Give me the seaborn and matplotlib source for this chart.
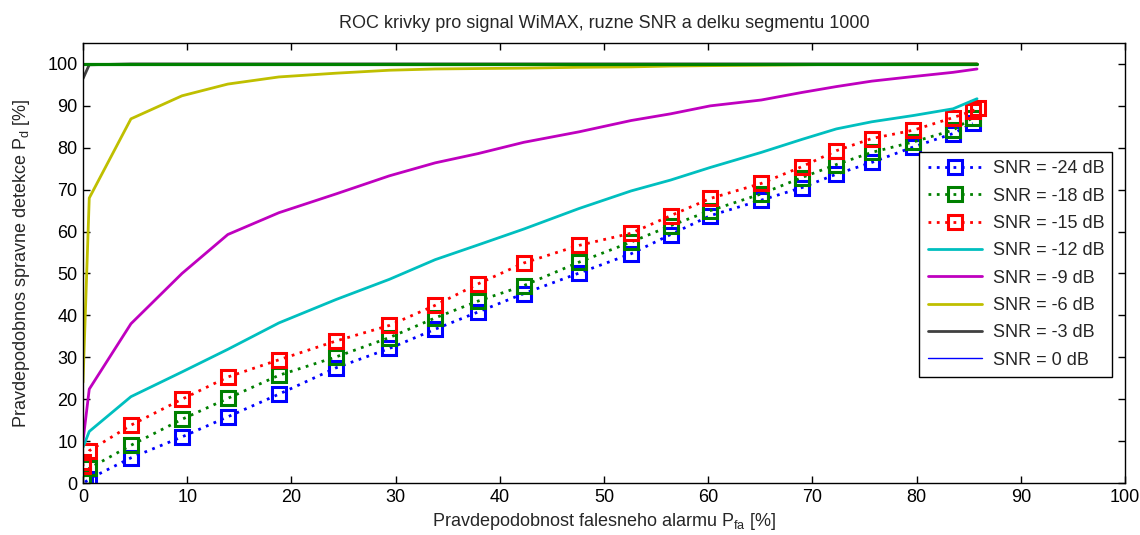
import numpy as np
import pandas as pd
import matplotlib
matplotlib.use("Agg")
import matplotlib.pyplot as plt
import seaborn as sns

sns.set_style("ticks")
plt.rcParams['font.family'] = ['Liberation Sans', 'DejaVu Sans']
plt.rcParams['mathtext.fontset'] = 'custom'
plt.rcParams['mathtext.rm'] = 'Liberation Sans'
plt.rcParams['mathtext.it'] = 'Liberation Sans'
plt.rcParams['mathtext.default'] = 'regular'

# ---- data (Pfa [%], Pd [%]) ----
x_m24 = [0.2, 0.6, 4.6, 9.5, 13.9, 18.8, 24.3, 29.4, 33.8, 37.9, 42.3, 47.6, 52.6, 56.4, 60.2, 65.1, 69.0, 72.3, 75.7, 79.7, 83.5, 85.4]
y_m24 = [0.2, 1.0, 6.0, 11.0, 15.8, 21.2, 27.5, 32.1, 36.7, 40.8, 45.2, 50.1, 54.7, 59.3, 63.8, 67.5, 70.5, 73.7, 76.5, 80.2, 83.4, 85.8]

x_m18 = [0.0, 0.6, 4.6, 9.5, 13.9, 18.8, 24.3, 29.4, 33.8, 37.9, 42.3, 47.6, 52.6, 56.4, 60.2, 65.1, 69.0, 72.3, 75.7, 79.7, 83.5, 85.4]
y_m18 = [1.5, 3.5, 9.0, 15.2, 20.2, 25.7, 30.1, 34.7, 39.4, 43.4, 47.1, 52.7, 57.5, 61.4, 65.0, 69.0, 72.9, 76.0, 78.9, 81.4, 84.2, 87.2]

x_m15 = [0.0, 0.0, 0.6, 4.6, 9.5, 13.9, 18.8, 24.3, 29.4, 33.8, 37.9, 42.3, 47.6, 52.6, 56.4, 60.2, 65.1, 69.0, 72.3, 75.7, 79.7, 83.5, 85.4, 85.9]
y_m15 = [4.0, 5.0, 7.7, 13.8, 20.0, 25.3, 29.4, 33.9, 37.6, 42.4, 47.5, 52.5, 56.7, 59.6, 63.8, 67.9, 71.5, 75.5, 79.3, 82.2, 84.2, 87.2, 88.8, 89.6]

x_line = [0.0, 0.6, 4.6, 9.5, 13.9, 18.8, 24.3, 29.4, 33.8, 37.9, 42.3, 47.6, 52.6, 56.4, 60.2, 65.1, 69.0, 72.3, 75.7, 79.7, 83.5, 85.8]
y_m12 = [8.5, 12.3, 20.6, 26.5, 31.9, 38.2, 43.8, 48.6, 53.3, 56.8, 60.6, 65.5, 69.7, 72.3, 75.3, 78.9, 82.0, 84.5, 86.2, 87.7, 89.3, 91.7]
y_m9 = [10.0, 22.4, 38.0, 50.0, 59.3, 64.5, 69.0, 73.3, 76.4, 78.6, 81.3, 83.8, 86.5, 88.1, 90.0, 91.4, 93.2, 94.6, 95.9, 97.0, 98.0, 98.8]
y_m6 = [24.0, 68.0, 86.9, 92.4, 95.2, 96.9, 97.8, 98.5, 98.8, 98.9, 99.0, 99.2, 99.3, 99.5, 99.6, 99.7, 99.8, 99.9, 99.9, 100.0, 100.0, 100.0]
y_m3 = [96.5, 99.8, 100.0, 100.0, 100.0, 100.0, 100.0, 100.0, 100.0, 100.0, 100.0, 100.0, 100.0, 100.0, 100.0, 100.0, 100.0, 100.0, 100.0, 100.0, 100.0, 100.0]
y_0 = [100.0] * 22
y_p3 = [100.0] * 22

labels = ['SNR = -24 dB', 'SNR = -18 dB', 'SNR = -15 dB', 'SNR = -12 dB',
          'SNR = -9 dB', 'SNR = -6 dB', 'SNR = -3 dB', 'SNR = 0 dB']

fig = plt.figure(figsize=(11.4, 5.35), dpi=100)
ax = fig.add_axes([83/1140, 1-483/535, (1125-83)/1140, (483-43)/535])

dot = (0, (1, 2))
mk = dict(marker='s', markersize=9.5, markerfacecolor='none', markeredgewidth=2.2)

def draw(x, y, label, color, lw, ls, marker=False):
    df = pd.DataFrame({'Pfa': x, 'Pd': y})
    kw = dict(mk, markeredgecolor=color) if marker else {}
    sns.lineplot(data=df, x='Pfa', y='Pd', ax=ax, sort=False, estimator=None,
                 color=color, linewidth=lw, linestyle=ls, label=label, **kw)

draw(x_m24, y_m24, labels[0], '#0000ff', 2.0, dot, True)
draw(x_m18, y_m18, labels[1], '#008000', 2.0, dot, True)
draw(x_m15, y_m15, labels[2], '#ff0000', 2.0, dot, True)
draw(x_line, y_m12, labels[3], '#00bfbf', 2.0, '-')
draw(x_line, y_m9, labels[4], '#bf00bf', 2.0, '-')
draw(x_line, y_m6, labels[5], '#bfbf00', 2.0, '-')
draw(x_line, y_m3, labels[6], '#404040', 2.0, '-')
draw(x_line, y_0, labels[7], '#0000ff', 1.0, '-')
draw(x_line, y_p3, '_nolegend_', '#008000', 2.3, '-')

ax.set_xlim(0, 100)
ax.set_ylim(0, 105)
ax.set_xticks(np.arange(0, 101, 10))
ax.set_yticks(np.arange(0, 101, 10))
ax.tick_params(direction='in', top=True, right=True, length=5, width=1,
               labelsize=13, colors='black', pad=4)
for s in ax.spines.values():
    s.set_visible(True)
    s.set_color('black')
    s.set_linewidth(1)

ax.set_title('ROC krivky pro signal WiMAX, ruzne SNR a delku segmentu 1000', fontsize=13, pad=11)
ax.set_xlabel('Pravdepodobnost falesneho alarmu P$_{fa}$ [%]', fontsize=13, labelpad=4)
ax.set_ylabel('Pravdepodobnos spravne detekce P$_{d}$ [%]', fontsize=13)
ax.yaxis.set_label_coords(-0.049, 0.5)

leg = ax.legend(loc='upper left', bbox_to_anchor=(0.794, 0.772), fontsize=13,
                frameon=True, fancybox=False, edgecolor='black', framealpha=1,
                handlelength=3.0, labelspacing=0.57, borderpad=0.45, handletextpad=0.6)
leg.get_frame().set_linewidth(1)

fig.savefig('out.png', dpi=100, facecolor='white')
